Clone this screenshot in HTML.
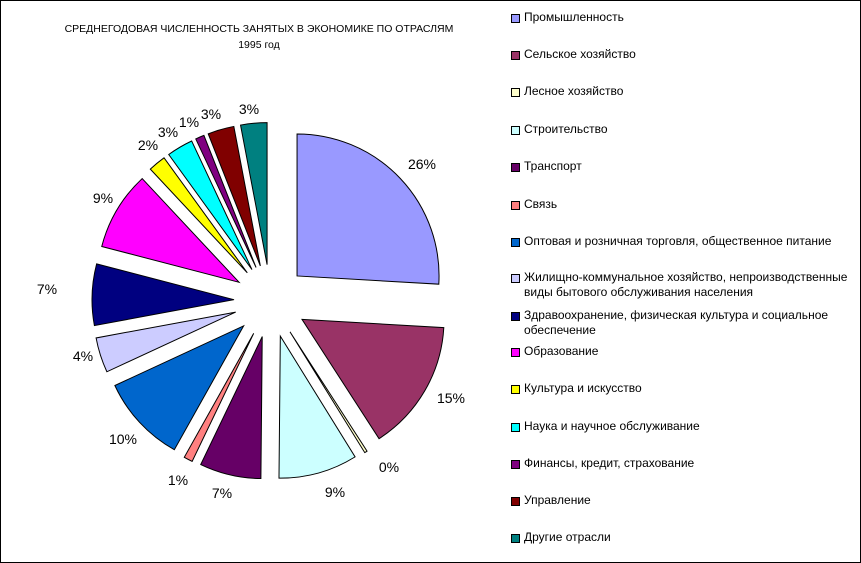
<!DOCTYPE html>
<html><head><meta charset="utf-8"><style>
html,body{margin:0;padding:0;background:#fff}
#c{position:relative;width:859px;height:561px;border:1px solid #000;overflow:hidden;font-family:"Liberation Sans",Arial,sans-serif}
.t{position:absolute;left:0;width:516px;text-align:center;font-size:10.5px;color:#000}
.lg{position:absolute;left:510px;font-size:12px;line-height:15px;color:#000}
.lg i{position:absolute;left:0;top:4px;width:7px;height:7px;border:1px solid #000}
.lg span{display:block;margin-left:13px}
.p{position:absolute;font-size:14px;color:#000;transform:translate(-50%,-50%);white-space:nowrap}
</style></head><body><div id="c">
<div class="t" style="top:22px">СРЕДНЕГОДОВАЯ ЧИСЛЕННОСТЬ ЗАНЯТЫХ В ЭКОНОМИКЕ ПО ОТРАСЛЯМ</div>
<div class="t" style="top:38px">1995 год</div>
<svg id="s" width="861" height="563" style="position:absolute;left:-1px;top:-1px"></svg>
<div class="lg" style="top:9px"><i style="background:#9999FF"></i><span>Промышленность</span></div>
<div class="lg" style="top:46px"><i style="background:#993366"></i><span>Сельское хозяйство</span></div>
<div class="lg" style="top:83px"><i style="background:#FFFFCC"></i><span>Лесное хозяйство</span></div>
<div class="lg" style="top:121px"><i style="background:#CCFFFF"></i><span>Строительство</span></div>
<div class="lg" style="top:158px"><i style="background:#660066"></i><span>Транспорт</span></div>
<div class="lg" style="top:196px"><i style="background:#FF8080"></i><span>Связь</span></div>
<div class="lg" style="top:233px"><i style="background:#0066CC"></i><span>Оптовая и розничная торговля, общественное питание</span></div>
<div class="lg" style="top:269px"><i style="background:#CCCCFF"></i><span>Жилищно-коммунальное хозяйство, непроизводственные<br>виды бытового обслуживания населения</span></div>
<div class="lg" style="top:307px"><i style="background:#000080"></i><span>Здравоохранение, физическая культура и социальное<br>обеспечение</span></div>
<div class="lg" style="top:343px"><i style="background:#FF00FF"></i><span>Образование</span></div>
<div class="lg" style="top:380px"><i style="background:#FFFF00"></i><span>Культура и искусство</span></div>
<div class="lg" style="top:418px"><i style="background:#00FFFF"></i><span>Наука и научное обслуживание</span></div>
<div class="lg" style="top:455px"><i style="background:#800080"></i><span>Финансы, кредит, страхование</span></div>
<div class="lg" style="top:492px"><i style="background:#800000"></i><span>Управление</span></div>
<div class="lg" style="top:529px"><i style="background:#008080"></i><span>Другие отрасли</span></div>
<div class="p" style="left:421px;top:163px">26%</div>
<div class="p" style="left:450px;top:397px">15%</div>
<div class="p" style="left:388px;top:466px">0%</div>
<div class="p" style="left:334px;top:491px">9%</div>
<div class="p" style="left:221px;top:492px">7%</div>
<div class="p" style="left:177px;top:479px">1%</div>
<div class="p" style="left:122px;top:438px">10%</div>
<div class="p" style="left:82px;top:355px">4%</div>
<div class="p" style="left:46px;top:288px">7%</div>
<div class="p" style="left:102px;top:197px">9%</div>
<div class="p" style="left:147px;top:144px">2%</div>
<div class="p" style="left:167px;top:131px">3%</div>
<div class="p" style="left:188px;top:121px">1%</div>
<div class="p" style="left:210px;top:113px">3%</div>
<div class="p" style="left:248px;top:108px">3%</div>
</div>
<script>
var d=[[26,"#9999FF"],[15,"#993366"],[0.3,"#FFFFCC"],[9,"#CCFFFF"],[7,"#660066"],[1,"#FF8080"],[10,"#0066CC"],[4,"#CCCCFF"],[7,"#000080"],[9,"#FF00FF"],[2,"#FFFF00"],[3,"#00FFFF"],[1,"#800080"],[3,"#800000"],[3,"#008080"]];
var tot=0;d.forEach(function(x){tot+=x[0]});
var cx=270.5,cy=301,r=142,off=36.5,a=90,h="";
d.forEach(function(x){
 var sw=x[0]/tot*360,a2=a-sw,m=(a+a2)/2*Math.PI/180;
 var ox=cx+off*Math.cos(m),oy=cy-off*Math.sin(m);
 var r1=a*Math.PI/180,r2=a2*Math.PI/180;
 var x1=ox+r*Math.cos(r1),y1=oy-r*Math.sin(r1),x2=ox+r*Math.cos(r2),y2=oy-r*Math.sin(r2);
 h+='<path d="M'+ox.toFixed(2)+' '+oy.toFixed(2)+' L'+x1.toFixed(2)+' '+y1.toFixed(2)+' A'+r+' '+r+' 0 '+(sw>180?1:0)+' 1 '+x2.toFixed(2)+' '+y2.toFixed(2)+' Z" fill="'+x[1]+'" stroke="#000" stroke-width="1"/>';
 a=a2;
});
document.getElementById("s").innerHTML=h;
</script>
</body></html>
